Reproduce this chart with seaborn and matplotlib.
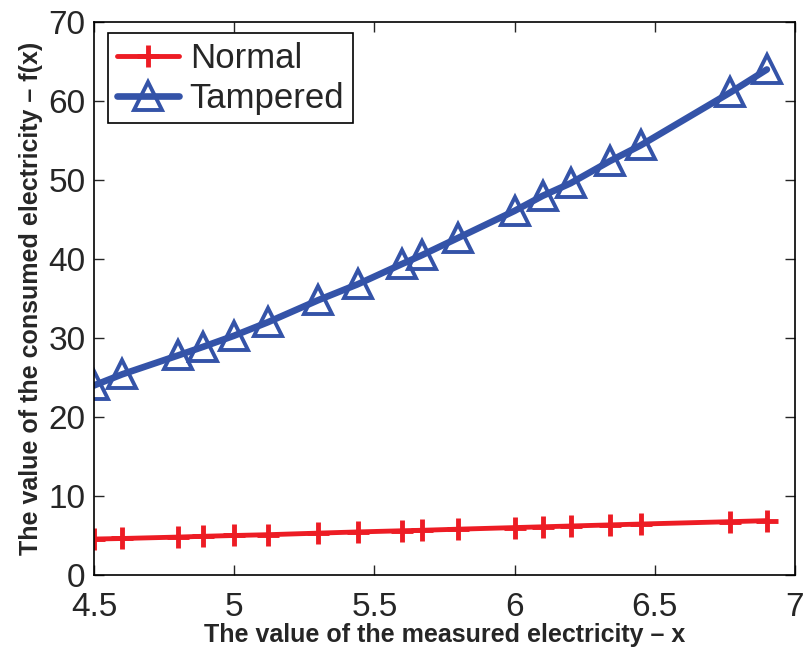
import matplotlib
matplotlib.use("Agg")
import matplotlib.pyplot as plt
import seaborn as sns
import pandas as pd

x_vals = [4.5, 4.6, 4.8, 4.89, 5.0, 5.12, 5.3, 5.44, 5.6, 5.67, 5.8, 6.0, 6.1, 6.2, 6.34, 6.45, 6.77, 6.9]
normal = [4.55, 4.62, 4.8, 4.9, 5.0, 5.1, 5.3, 5.45, 5.6, 5.66, 5.8, 6.0, 6.1, 6.2, 6.34, 6.45, 6.75, 6.88]
tampered = [24.0, 25.4, 27.8, 28.9, 30.3, 32.0, 34.8, 36.8, 39.4, 40.5, 42.7, 46.1, 48.0, 49.6, 52.4, 54.4, 61.1, 64.0]

xticks = [4.5, 5, 5.5, 6, 6.5, 7]
xticklabels = ["4.5", "5", "5.5", "6", "6.5", "7"]
yticks = [0, 10, 20, 30, 40, 50, 60, 70]

sns.set_style("ticks")
plt.rcParams['font.family'] = ['Liberation Sans', 'DejaVu Sans']

df = pd.DataFrame({"x": x_vals, "Normal": normal, "Tampered": tampered})

fig = plt.figure(figsize=(8.07, 6.5), dpi=100)
ax = fig.add_axes([0.1165, 0.1154, 0.8685, 0.8506])

red = "#ED1C24"
blue = "#3453A8"

sns.lineplot(data=df, x="x", y="Normal", ax=ax, color=red, linewidth=3.5,
             marker="+", markersize=16, markeredgewidth=3.5, markeredgecolor=red,
             label="Normal", sort=True)
sns.lineplot(data=df, x="x", y="Tampered", ax=ax, color=blue, linewidth=4.8,
             marker="^", markersize=20, markeredgewidth=2.8, markeredgecolor=blue,
             markerfacecolor="none", label="Tampered", sort=True)

ax.set_xlim(4.5, 7)
ax.set_ylim(0, 70)
ax.set_xticks(xticks)
ax.set_xticklabels(xticklabels)
ax.set_yticks(yticks)
ax.tick_params(axis='both', direction='in', top=True, right=True, labelsize=24,
               length=7, width=1)
ax.tick_params(axis='x', pad=12)
ax.tick_params(axis='y', pad=6)
for s in ax.spines.values():
    s.set_linewidth(1.2)
    s.set_color("black")

ax.set_xlabel("The value of the measured electricity – x", fontsize=18, fontweight='bold', labelpad=0)
ax.set_ylabel("The value of the consumed electricity – f(x)", fontsize=18, fontweight='bold', labelpad=4)

leg = ax.legend(loc='upper left', fontsize=25, frameon=True, fancybox=False,
                edgecolor='black', framealpha=1, handlelength=1.8, borderpad=0.25,
                labelspacing=0.2, handletextpad=0.3, borderaxespad=0,
                bbox_to_anchor=(0.02, 0.98))
leg.get_frame().set_linewidth(1.2)

fig.savefig("out.png", dpi=100)
